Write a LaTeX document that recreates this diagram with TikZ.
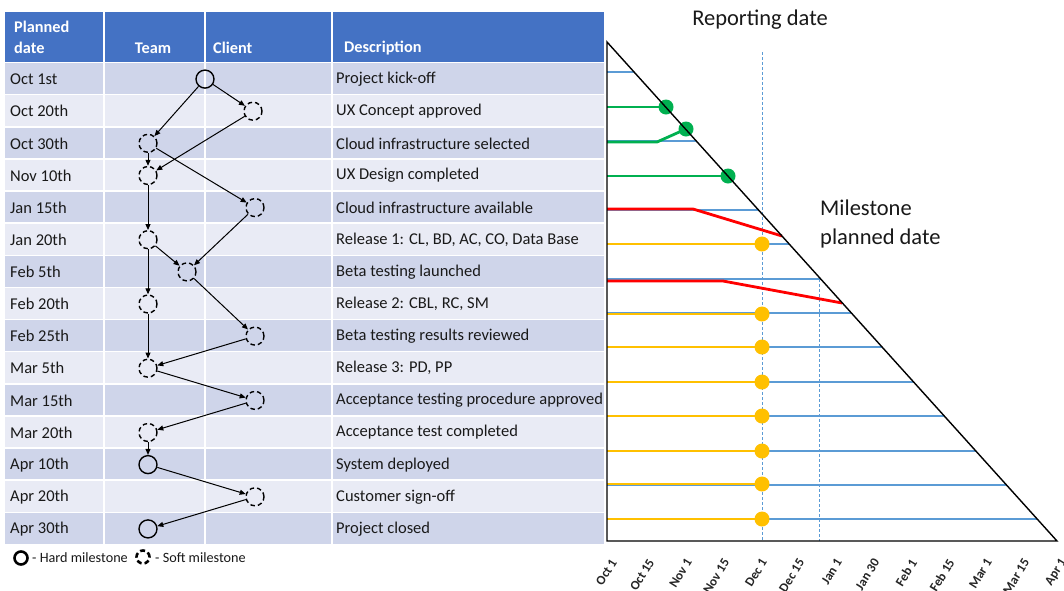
\documentclass[tikz,border=0pt]{standalone}
\usepackage{fontspec}
\setmainfont{Carlito}
\usetikzlibrary{arrows.meta}
\definecolor{hdr}{HTML}{4472C4}
\definecolor{rowA}{HTML}{CFD5EA}
\definecolor{rowB}{HTML}{E9EBF5}
\definecolor{gblue}{HTML}{5B9BD5}
\definecolor{mgreen}{HTML}{00B050}
\definecolor{myellow}{HTML}{FFC000}
\definecolor{mred}{HTML}{FF0000}
\begin{document}
\begin{tikzpicture}[x=1pt,y=-1pt,
  celltext/.style={anchor=west,inner sep=0pt,font=\fontsize{16.5}{19}\selectfont,text=black!90},
  hdrtext/.style={anchor=west,inner sep=0pt,font=\bfseries\fontsize{16.3}{19}\selectfont,text=white},
  hardms/.style={circle,draw=black,line width=1.4pt,minimum size=18pt,inner sep=0pt},
  softms/.style={circle,draw=black,line width=1.4pt,dash pattern=on 4.5pt off 3pt,minimum size=18pt,inner sep=0pt},
  arr/.style={-{Triangle[length=6pt,width=5pt]},line width=1pt,black},
  axisline/.style={line width=1.4pt,black},
  gridln/.style={gblue,line width=1.2pt},
  rdash/.style={gblue,line width=1pt,dash pattern=on 3pt off 2pt},
  gline/.style={line width=2.8pt,line join=round},
  dot/.style={circle,inner sep=0pt,minimum size=15pt},
  ticklab/.style={rotate=58,anchor=east,inner sep=0pt,font=\bfseries\fontsize{13}{15}\selectfont,text=black!85},
  bigtext/.style={font=\fontsize{22.5}{26}\selectfont,text=black!90,inner sep=0pt},
  legtext/.style={anchor=west,inner sep=0pt,font=\fontsize{14.2}{17}\selectfont,text=black!90}
]
\useasboundingbox (0,0) rectangle (1064,590);
\fill[white] (0,0) rectangle (1064,590);

% ---------- table ----------
\fill[hdr] (5,12) rectangle (604,62);
\foreach \d/\t [count=\i from 0] in {Oct 1st/Project kick-off, Oct 20th/UX Concept approved,
  Oct 30th/Cloud infrastructure selected, Nov 10th/UX Design completed,
  Jan 15th/Cloud infrastructure available, Jan 20th/{Release 1: CL, BD, AC, CO, Data Base},
  Feb 5th/Beta testing launched, Feb 20th/{Release 2: CBL, RC, SM},
  Feb 25th/Beta testing results reviewed, Mar 5th/{Release 3: PD, PP},
  Mar 15th/Acceptance testing procedure approved, Mar 20th/Acceptance test completed,
  Apr 10th/System deployed, Apr 20th/Customer sign-off, Apr 30th/Project closed}{
  \pgfmathsetmacro\ytop{63+32.13*\i}
  \pgfmathsetmacro\yc{79.07+32.13*\i}
  \pgfmathtruncatemacro\rp{mod(\i,2)}
  \ifnum\rp=0 \fill[rowA] (5,\ytop) rectangle (604,\ytop+32.13);
  \else \fill[rowB] (5,\ytop) rectangle (604,\ytop+32.13); \fi
  \node[celltext] (d\i) at (10,\yc) {\d};
  \node[celltext] (t\i) at (336,\yc) {\t};
}
\foreach \i in {0,...,15}{
  \draw[white,line width=1.5pt] (5,{62.5+32.13*\i}) -- (604,{62.5+32.13*\i});
}
\foreach \x in {104,205,332}{
  \draw[white,line width=1.5pt] (\x,12) -- (\x,545);
}
\node[hdrtext] (h1) at (14,27) {Planned};
\node[hdrtext] (h2) at (14,48) {date};
\node[hdrtext,anchor=center] (h3) at (153,48) {Team};
\node[hdrtext] (h4) at (213,48) {Client};
\node[hdrtext] (h5) at (344,48) {Description};

% ---------- milestones ----------
\node[hardms] (m1)  at (205,79.1) {};
\node[softms] (m2)  at (253,111.2) {};
\node[softms] (m3)  at (148,143.3) {};
\node[softms] (m4)  at (148,175.5) {};
\node[softms] (m5)  at (255,207.6) {};
\node[softms] (m6)  at (148,239.7) {};
\node[softms] (m7)  at (187,271.9) {};
\node[softms] (m8)  at (148,304.0) {};
\node[softms] (m9)  at (255,336.1) {};
\node[softms] (m10) at (148,368.2) {};
\node[softms] (m11) at (255,400.4) {};
\node[softms] (m12) at (148,432.5) {};
\node[hardms] (m13) at (148,464.6) {};
\node[softms] (m14) at (255,496.8) {};
\node[hardms] (m15) at (148,528.9) {};

\draw[arr] (m1) -- (m2);
\draw[arr] (m1) -- (m3);
\draw[arr] (m2) -- (m4);
\draw[arr] (m3) -- (m4);
\draw[arr] (m3) -- (m5);
\draw[arr] (m4) -- (m6);
\draw[arr] (m6) -- (m7);
\draw[arr] (m5) -- (m7);
\draw[arr] (m6) -- (m8);
\draw[arr] (m7) -- (m9);
\draw[arr] (m8) -- (m10);
\draw[arr] (m9) -- (m10);
\draw[arr] (m10) -- (m11);
\draw[arr] (m11) -- (m12);
\draw[arr] (m12) -- (m13);
\draw[arr] (m13) -- (m14);
\draw[arr] (m14) -- (m15);

% legend
\node[hardms,line width=2.6pt,minimum size=13pt] (lh) at (21,558) {};
\node[legtext] (lht) at (32,558) {- Hard milestone};
\node[softms,line width=2.6pt,dash pattern=on 5pt off 3pt,minimum size=13pt] (ls) at (143,557) {};
\node[legtext] (lst) at (155,558) {- Soft milestone};

% ---------- chart ----------
\coordinate (T) at (607,42);
\coordinate (O) at (607,541);
\coordinate (E) at (1057,541);

\foreach \y in {72,107,141,176,210,244,279,313,347,382,416,451,485,519}{
  \draw[gridln] (607,\y) -- ({607+(\y-42)*0.9018},\y);
}
\draw[rdash] (762,52) -- (762,541);
\draw[rdash] (819,279) -- (819,541);

% green
\draw[gline,mgreen] (607,107) -- (666,107);
\node[dot,fill=mgreen] (g1) at (666,107) {};
\draw[gline,mgreen] (607,142) -- (657,142) -- (686,129);
\node[dot,fill=mgreen] (g2) at (686,129) {};
\draw[gline,mgreen] (607,176) -- (728,176);
\node[dot,fill=mgreen] (g3) at (728,176) {};
% red
\draw[gline,mred] (607,209) -- (693,209) -- (782,236);
\draw[gline,mred] (607,281) -- (723,281) -- (842,303);
% yellow
\foreach \y [count=\k] in {244,314,347,382,416,451,484,519}{
  \draw[gline,myellow] (607,\y) -- (762,\y);
  \node[dot,fill=myellow] (y\k) at (762,\y) {};
}

\draw[axisline] (T) -- (O) -- (E) -- cycle;

\foreach \l [count=\k from 0] in {Oct 1,Oct 15,Nov 1,Nov 15,Dec 1,Dec 15,Jan 1,Jan 30,Feb 1,Feb 15,Mar 1,Mar 15,Apr 1}{
  \node[ticklab] (x\k) at ({614+37.5*\k},560) {\l};
}

\node[bigtext] (rep) at (760,20) {Reporting date};
\node[bigtext,anchor=west] (ms1) at (820,208) {Milestone};
\node[bigtext,anchor=west] (ms2) at (820,238) {planned date};
\end{tikzpicture}
\end{document}
